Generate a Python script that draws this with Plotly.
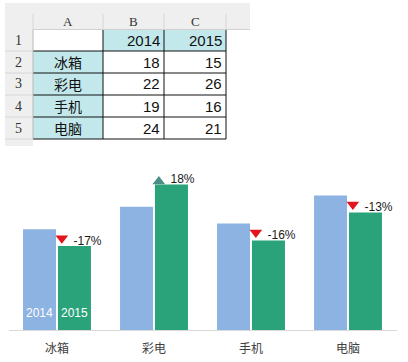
import math
import plotly.graph_objects as go

# ---- data ----
categories = ["冰箱", "彩电", "手机", "电脑"]
years = ["2014", "2015"]
values_2014 = [18, 22, 19, 24]
values_2015 = [15, 26, 16, 21]
col_letters = ["A", "B", "C"]
row_numbers = ["1", "2", "3", "4", "5"]

W, H = 408, 362


def px(x):
    return x / W


def py(y):
    return 1 - y / H


def pct_label(a, b):
    r = (b - a) / a * 100
    s = -1 if r < 0 else 1
    return f"{s * math.floor(abs(r) + 0.5)}%"


labels = [pct_label(a, b) for a, b in zip(values_2014, values_2015)]
up = [b >= a for a, b in zip(values_2014, values_2015)]

BLUE = "#8DB3E2"
GREEN = "#2BA37A"
RED = "#E3151C"
TEAL = "#4A8E86"
CYAN = "#C2E8EC"
GREY = "#EFEFEF"

fig = go.Figure()
xs = list(range(len(categories)))

fig.add_trace(go.Bar(x=xs, y=values_2014, width=0.34, offset=-0.35,
                     marker=dict(color=BLUE, line=dict(width=0)),
                     name=years[0], hoverinfo="skip"))
fig.add_trace(go.Bar(x=xs, y=values_2015, width=0.34, offset=0.01,
                     marker=dict(color=GREEN, line=dict(width=0)),
                     name=years[1], hoverinfo="skip"))

# change markers
fig.add_trace(go.Scatter(
    x=[i + 0.05 for i in xs],
    y=[v + (0.5 if u else 1.4) for v, u in zip(values_2015, up)],
    mode="markers",
    marker=dict(symbol=["triangle-up" if u else "triangle-down" for u in up],
                size=11,
                color=[TEAL if u else RED for u in up],
                line=dict(width=0)),
    hoverinfo="skip"))

# change labels
fig.add_trace(go.Scatter(
    x=[i + 0.17 for i in xs],
    y=[v + 0.75 for v in values_2015],
    mode="text",
    text=labels,
    textposition="middle right",
    textfont=dict(family="Liberation Sans, Arial, sans-serif", size=12, color="#1A1A1A"),
    hoverinfo="skip"))

annotations = []
# series names inside first group's bars
for k, (dx, yr) in enumerate(zip([-0.18, 0.18], years)):
    annotations.append(dict(x=0 + dx, y=0, xref="x", yref="y", text=yr, showarrow=False,
                            xanchor="center", yanchor="bottom", yshift=8,
                            font=dict(family="Liberation Sans, Arial, sans-serif", size=12, color="white")))

# ---- spreadsheet table drawn above the chart ----
shapes = []
col_edges = [33, 103, 164, 226]
row_edges = [30, 51, 73, 95, 117, 139]


def rect(x0, y0, x1, y1, fill):
    shapes.append(dict(type="rect", xref="paper", yref="paper",
                       x0=px(x0), x1=px(x1), y0=py(y1), y1=py(y0),
                       fillcolor=fill, line=dict(width=0), layer="below"))


def line(x0, y0, x1, y1, color, lw=1):
    shapes.append(dict(type="line", xref="paper", yref="paper",
                       x0=px(x0), x1=px(x1), y0=py(y0), y1=py(y1),
                       line=dict(width=lw, color=color)))


# grey headers
rect(5, 3, 250, 30, GREY)
rect(5, 30, 33, 146, GREY)
for x in col_edges:
    line(x, 14, x, 30, "#D6D6D6")
line(33, 29.5, 250, 29.5, "#D0D0D0")
for y in row_edges[1:]:
    line(5, y, 33, y, "#D6D6D6")

# cell fills
rect(col_edges[1], row_edges[0], col_edges[3], row_edges[1], CYAN)
rect(col_edges[0], row_edges[1], col_edges[1], row_edges[5], CYAN)
rect(col_edges[0], row_edges[0], col_edges[1], row_edges[1], "white")
rect(col_edges[1], row_edges[1], col_edges[3], row_edges[5], "white")

# grid lines
for y in row_edges[1:]:
    line(col_edges[0], y, col_edges[3], y, "#111111")
for x in col_edges[1:]:
    line(x, row_edges[0], x, row_edges[5], "#111111")
line(col_edges[0], row_edges[0], col_edges[0], row_edges[5], "#B8B8B8")

serif = "Liberation Serif, DejaVu Serif, serif"
sans = "Liberation Sans, Arial, sans-serif"
cjk = "Noto Sans CJK SC, sans-serif"


def cell_text(x, y, text, font, xanchor="center"):
    annotations.append(dict(x=px(x), y=py(y), xref="paper", yref="paper", text=text,
                            showarrow=False, xanchor=xanchor, yanchor="middle", font=font))


for i, letter in enumerate(col_letters):
    cx = (col_edges[i] + col_edges[i + 1]) / 2
    cell_text(cx, 22, letter, dict(family=serif, size=13, color="#333333"))
for j, rn in enumerate(row_numbers):
    cy = (row_edges[j] + row_edges[j + 1]) / 2
    cell_text(18, cy, rn, dict(family=serif, size=14, color="#333333"))

row1_cy = (row_edges[0] + row_edges[1]) / 2
for k, yr in enumerate(years):
    cell_text(col_edges[k + 2] - 2, row1_cy, yr, dict(family=sans, size=15, color="#111111"), "right")
for j, cat in enumerate(categories):
    cy = (row_edges[j + 1] + row_edges[j + 2]) / 2
    cell_text((col_edges[0] + col_edges[1]) / 2, cy, cat, dict(family=cjk, size=14, color="#111111"))
    for k, vals in enumerate([values_2014, values_2015]):
        cell_text(col_edges[k + 2] - 2, cy, str(vals[j]), dict(family=sans, size=15, color="#111111"), "right")

fig.update_layout(
    width=W, height=H,
    margin=dict(l=0, r=0, t=0, b=0),
    paper_bgcolor="white", plot_bgcolor="white",
    barmode="overlay",
    showlegend=False,
    shapes=shapes,
    annotations=annotations,
    xaxis=dict(domain=[8.5 / W, 396.5 / W], range=[-0.5, 3.5],
               tickvals=xs, ticktext=categories, ticks="",
               showgrid=False, zeroline=False, showline=True,
               linecolor="#D9D9D9", linewidth=1,
               tickfont=dict(family=cjk, size=12, color="#404040"),
               ticklabelstandoff=8, fixedrange=True),
    yaxis=dict(domain=[32 / H, 200 / H], range=[0, 30], visible=False,
               showgrid=False, zeroline=False, fixedrange=True),
)

fig.write_html("out.html", config={"displayModeBar": False},
               post_script="document.body.style.margin='0';document.body.style.overflow='hidden';")
